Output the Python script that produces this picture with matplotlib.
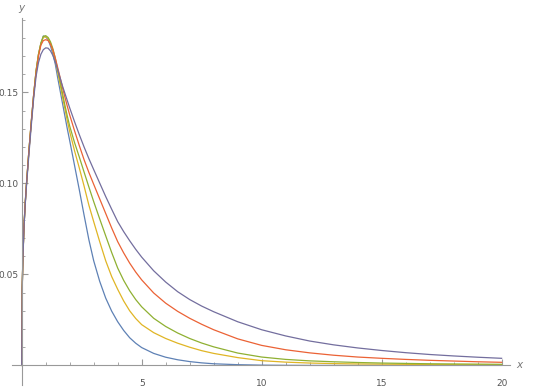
import matplotlib
matplotlib.use("Agg")
import matplotlib.pyplot as plt
from matplotlib.ticker import FixedLocator

# sample positions shared by all five curves
x = [0, 0.02, 0.05, 0.1, 0.15, 0.2, 0.3, 0.4, 0.5, 0.6, 0.7, 0.8, 0.9, 1.0,
     1.1, 1.2, 1.3, 1.4, 1.5, 1.6, 1.7, 1.8, 1.9, 2.0, 2.2, 2.4, 2.6, 2.8,
     3.0, 3.25, 3.5, 3.75, 4.0, 4.25, 4.5, 4.75, 5.0, 5.5, 6.0, 6.5, 7.0, 7.5, 8, 9,
     10, 11, 12, 13, 14, 15, 16, 17, 18, 19, 20]

# values
y_blue = [0, 0.042, 0.060, 0.078, 0.090, 0.100, 0.118, 0.134, 0.149, 0.162, 0.171, 0.177, 0.181, 0.1805,
          0.179, 0.1755, 0.171, 0.1655, 0.158, 0.151, 0.144, 0.137, 0.130, 0.1235, 0.110, 0.0965, 0.0825, 0.0690,
          0.0575, 0.0462, 0.0370, 0.0298, 0.0240, 0.0192, 0.0152, 0.0122, 0.0098, 0.0066, 0.0045, 0.0031, 0.0021,
          0.0014, 0.0009, 0.0004,
          0.00015, 0.00005, 0, 0, 0, 0, 0, 0, 0, 0, 0]

y_yellow = [0, 0.042, 0.060, 0.078, 0.090, 0.100, 0.118, 0.134, 0.149, 0.162, 0.171, 0.177, 0.1803, 0.1806,
            0.1797, 0.177, 0.1728, 0.1673, 0.161, 0.1545, 0.1475, 0.141, 0.1345, 0.1285, 0.118, 0.1085, 0.0985, 0.088,
            0.079, 0.068, 0.0575, 0.0488, 0.0418, 0.0354, 0.0300, 0.0258, 0.0224, 0.0180, 0.0148, 0.0122, 0.0100,
            0.0081, 0.0066, 0.0043,
            0.0026, 0.0018, 0.0013, 0.0010, 0.0008, 0.0007, 0.0006, 0.0005, 0.0004, 0.0003, 0.00025]

y_green = [0, 0.042, 0.060, 0.078, 0.090, 0.100, 0.118, 0.134, 0.149, 0.162, 0.171, 0.177, 0.1808, 0.1812,
           0.1802, 0.1778, 0.174, 0.1688, 0.1625, 0.1562, 0.1495, 0.143, 0.137, 0.1315, 0.1225, 0.1145, 0.1062, 0.098,
           0.090, 0.0805, 0.0712, 0.062, 0.0535, 0.0467, 0.0410, 0.0362, 0.0322, 0.0259, 0.0214, 0.0178, 0.0148,
           0.0123, 0.0102, 0.0068,
           0.0046, 0.0033, 0.0025, 0.0020, 0.0016, 0.0013, 0.0011, 0.0009, 0.0008, 0.0007, 0.0006]

y_red = [0, 0.042, 0.060, 0.078, 0.090, 0.100, 0.118, 0.134, 0.149, 0.161, 0.170, 0.176, 0.1785, 0.179,
         0.1785, 0.1765, 0.1733, 0.1688, 0.1636, 0.1582, 0.1527, 0.1474, 0.1424, 0.1376, 0.1290, 0.1208, 0.1130, 0.1060,
         0.0995, 0.0915, 0.0835, 0.0755, 0.0680, 0.0618, 0.0562, 0.0513, 0.0470, 0.0398, 0.0342, 0.0297, 0.0259,
         0.0226, 0.0196, 0.0146,
         0.0110, 0.0086, 0.0069, 0.0056, 0.0046, 0.0039, 0.0033, 0.0028, 0.0024, 0.0020, 0.0017]

y_purple = [0, 0.041, 0.059, 0.077, 0.089, 0.099, 0.116, 0.132, 0.147, 0.159, 0.1665, 0.171, 0.1735, 0.1745,
            0.1743, 0.1728, 0.1703, 0.1667, 0.1625, 0.1580, 0.1535, 0.1495, 0.1455, 0.1415, 0.1340, 0.1268, 0.1200,
            0.1136, 0.1076, 0.1002, 0.0928, 0.0858, 0.0790, 0.0735, 0.0685, 0.0638, 0.0595, 0.0520, 0.0458, 0.0405,
            0.0362, 0.0326, 0.0295, 0.0240,
            0.0196, 0.0162, 0.0134, 0.0113, 0.0096, 0.0082, 0.0070, 0.0060, 0.0052, 0.0045, 0.0039]

series = [
    (y_blue, "#5e81b5"),
    (y_yellow, "#e0b525"),
    (y_green, "#8fb032"),
    (y_red, "#eb6235"),
    (y_purple, "#736e9e"),
]

fig = plt.figure(figsize=(5.4, 3.87), dpi=100)
ax = fig.add_axes([0.022, 0.005, 0.922, 0.948])

for ys, c in series:
    ax.plot(x, ys, color=c, linewidth=0.9)

ax.set_xlim(-0.41, 20.34)
ax.set_ylim(-0.0108, 0.1908)

axis_col = "#999999"
for side in ["top", "right"]:
    ax.spines[side].set_visible(False)
ax.spines["left"].set_position(("data", 0))
ax.spines["bottom"].set_position(("data", 0))
for side in ["left", "bottom"]:
    ax.spines[side].set_color(axis_col)
    ax.spines[side].set_linewidth(0.8)

ax.xaxis.set_major_locator(FixedLocator([5, 10, 15, 20]))
ax.xaxis.set_minor_locator(FixedLocator([i for i in range(1, 21) if i % 5]))
ax.yaxis.set_major_locator(FixedLocator([0.05, 0.10, 0.15]))
ax.yaxis.set_minor_locator(FixedLocator([i / 100 for i in range(1, 20) if i % 5]))
ax.yaxis.set_major_formatter(plt.FuncFormatter(lambda v, p: f"{v:.2f}"))

ax.tick_params(which="major", direction="in", length=4, width=0.8, color=axis_col,
               labelsize=6.5, labelcolor="#555555")
ax.tick_params(which="minor", direction="in", length=2.2, width=0.6, color=axis_col)
ax.tick_params(axis="x", which="major", pad=10)
ax.tick_params(axis="y", which="major", pad=2)

ax.text(0, 0.1935, "y", fontsize=7.5, style="italic", color="#777777",
        ha="center", va="bottom", clip_on=False)
ax.text(20.6, 0, "x", fontsize=7.5, style="italic", color="#777777",
        ha="left", va="center", clip_on=False)

fig.savefig("out.png", dpi=100)
